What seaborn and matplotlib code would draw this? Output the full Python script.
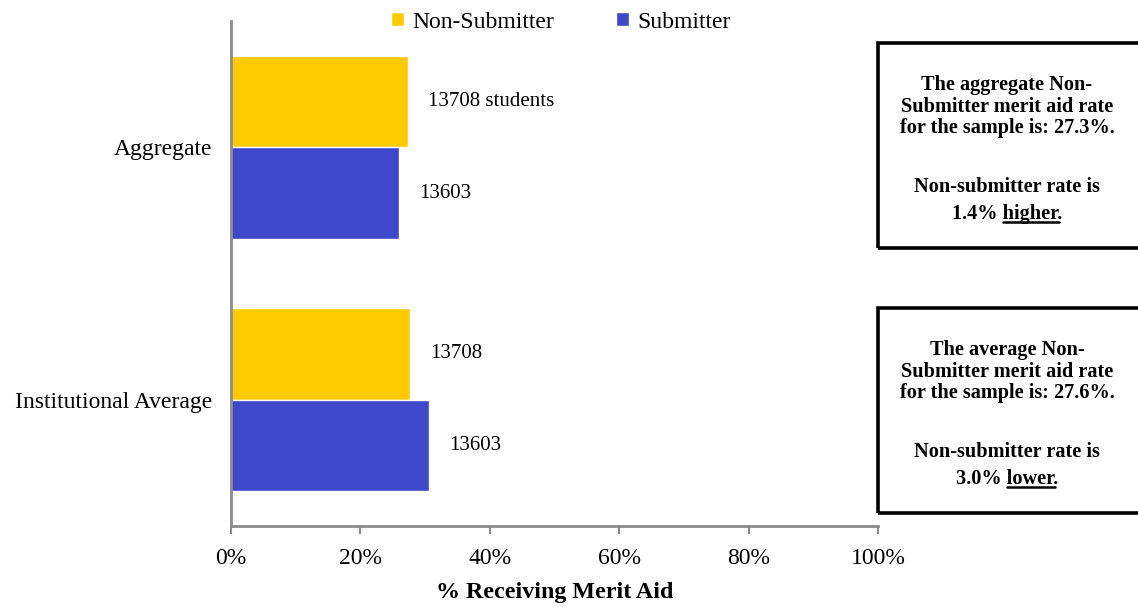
import matplotlib
matplotlib.use("Agg")
import matplotlib.pyplot as plt
from matplotlib.patches import Rectangle
from matplotlib.lines import Line2D
from matplotlib.ticker import FuncFormatter
import pandas as pd
import seaborn as sns

# ---- data ----
categories = ["Aggregate", "Institutional Average"]
groups = ["Non-Submitter", "Submitter"]
non_submitter_pct = [27.3, 27.6]
submitter_pct = [25.9, 30.6]
non_submitter_n = ["13708 students", "13708"]
submitter_n = ["13603", "13603"]
x_ticks = [0, 20, 40, 60, 80, 100]

box_texts = [
    ["The aggregate Non-", "Submitter merit aid rate", "for the sample is: 27.3%.",
     "Non-submitter rate is", ("1.4% ", "higher", ".")],
    ["The average Non-", "Submitter merit aid rate", "for the sample is: 27.6%.",
     "Non-submitter rate is", ("3.0% ", "lower", ".")],
]

YELLOW = "#FFCA00"
BLUE = "#3F48C8"
GRAY = "#8C8C8C"
W, H = 1138, 607

df = pd.DataFrame({
    "category": categories * 2,
    "group": [groups[0]] * 2 + [groups[1]] * 2,
    "value": non_submitter_pct + submitter_pct,
})

sns.set_theme(style="white")
plt.rcParams["font.family"] = ["Liberation Serif", "DejaVu Serif"]
plt.rcParams.update({"text.color": "black", "axes.labelcolor": "black",
                     "xtick.color": "black", "ytick.color": "black"})

fig = plt.figure(figsize=(W / 100, H / 100), dpi=100)
ax = fig.add_axes([231 / W, 1 - 526 / H, (878 - 231) / W, (526 - 21) / H])

sns.barplot(data=df, y="category", x="value", hue="group", orient="h",
            order=categories, hue_order=groups, palette=[YELLOW, BLUE],
            saturation=1, width=0.726, ax=ax, legend=True)

# count labels to the right of each bar
for container, labels in zip(ax.containers, [non_submitter_n, submitter_n]):
    ax.bar_label(container, labels=labels, padding=14.5, fontsize=15, color="black")

ax.set_xlim(0, 100)
ax.set_ylim(1.5, -0.5)
ax.set_xticks(x_ticks)
ax.xaxis.set_major_formatter(FuncFormatter(lambda v, p: f"{v:.0f}%"))
ax.tick_params(axis="x", which="major", bottom=True, length=6, width=1.5,
               color=GRAY, labelcolor="black", labelsize=17, pad=10)
ax.tick_params(axis="y", left=False, labelsize=17, pad=7.3, labelcolor="black")
ax.set_ylabel("")
ax.set_xlabel("% Receiving Merit Aid", fontsize=17.3, fontweight="bold",
              labelpad=9.5, color="black")

for side in ["top", "right"]:
    ax.spines[side].set_visible(False)
for side in ["left", "bottom"]:
    ax.spines[side].set_color(GRAY)
    ax.spines[side].set_linewidth(2)

sns.move_legend(ax, "center", bbox_to_anchor=(561 / W, 1 - 22 / H),
                bbox_transform=fig.transFigure, ncol=2, frameon=False,
                title=None, fontsize=17, handlelength=0.55, handleheight=0.55,
                handletextpad=0.35, columnspacing=2.6, borderpad=0)
for txt in ax.get_legend().get_texts():
    txt.set_color("black")

# annotation boxes on the right
renderer = fig.canvas.get_renderer()
line_offsets = [47, 69, 90, 149, 176]
box_tops = [43, 308]
cx = 1007
fs = 14.6
for top, lines in zip(box_tops, box_texts):
    fig.add_artist(Rectangle((878 / W, 1 - (top + 205) / H), (1200 - 878) / W, 205 / H,
                             transform=fig.transFigure, fill=False,
                             edgecolor="black", linewidth=2.6, clip_on=False))
    for off, line in zip(line_offsets, lines):
        yb = 1 - (top + off) / H
        if isinstance(line, tuple):
            full = "".join(line)
            t = fig.text(cx / W, yb, full, ha="center", va="baseline",
                         fontsize=fs, fontweight="bold", color="black")
            prop = t.get_fontproperties()
            bb = t.get_window_extent(renderer)
            w_pw, _, _ = renderer.get_text_width_height_descent(line[0] + line[1], prop, ismath=False)
            w_w, _, _ = renderer.get_text_width_height_descent(line[1], prop, ismath=False)
            x1 = bb.x0 + w_pw
            x0 = x1 - w_w
            y_line = yb * H - 3
            fig.add_artist(Line2D([x0 / W, x1 / W], [y_line / H, y_line / H],
                                  transform=fig.transFigure, color="black",
                                  linewidth=1.8))
        else:
            fig.text(cx / W, yb, line, ha="center", va="baseline",
                     fontsize=fs, fontweight="bold", color="black")

fig.savefig("out.png", dpi=100)
